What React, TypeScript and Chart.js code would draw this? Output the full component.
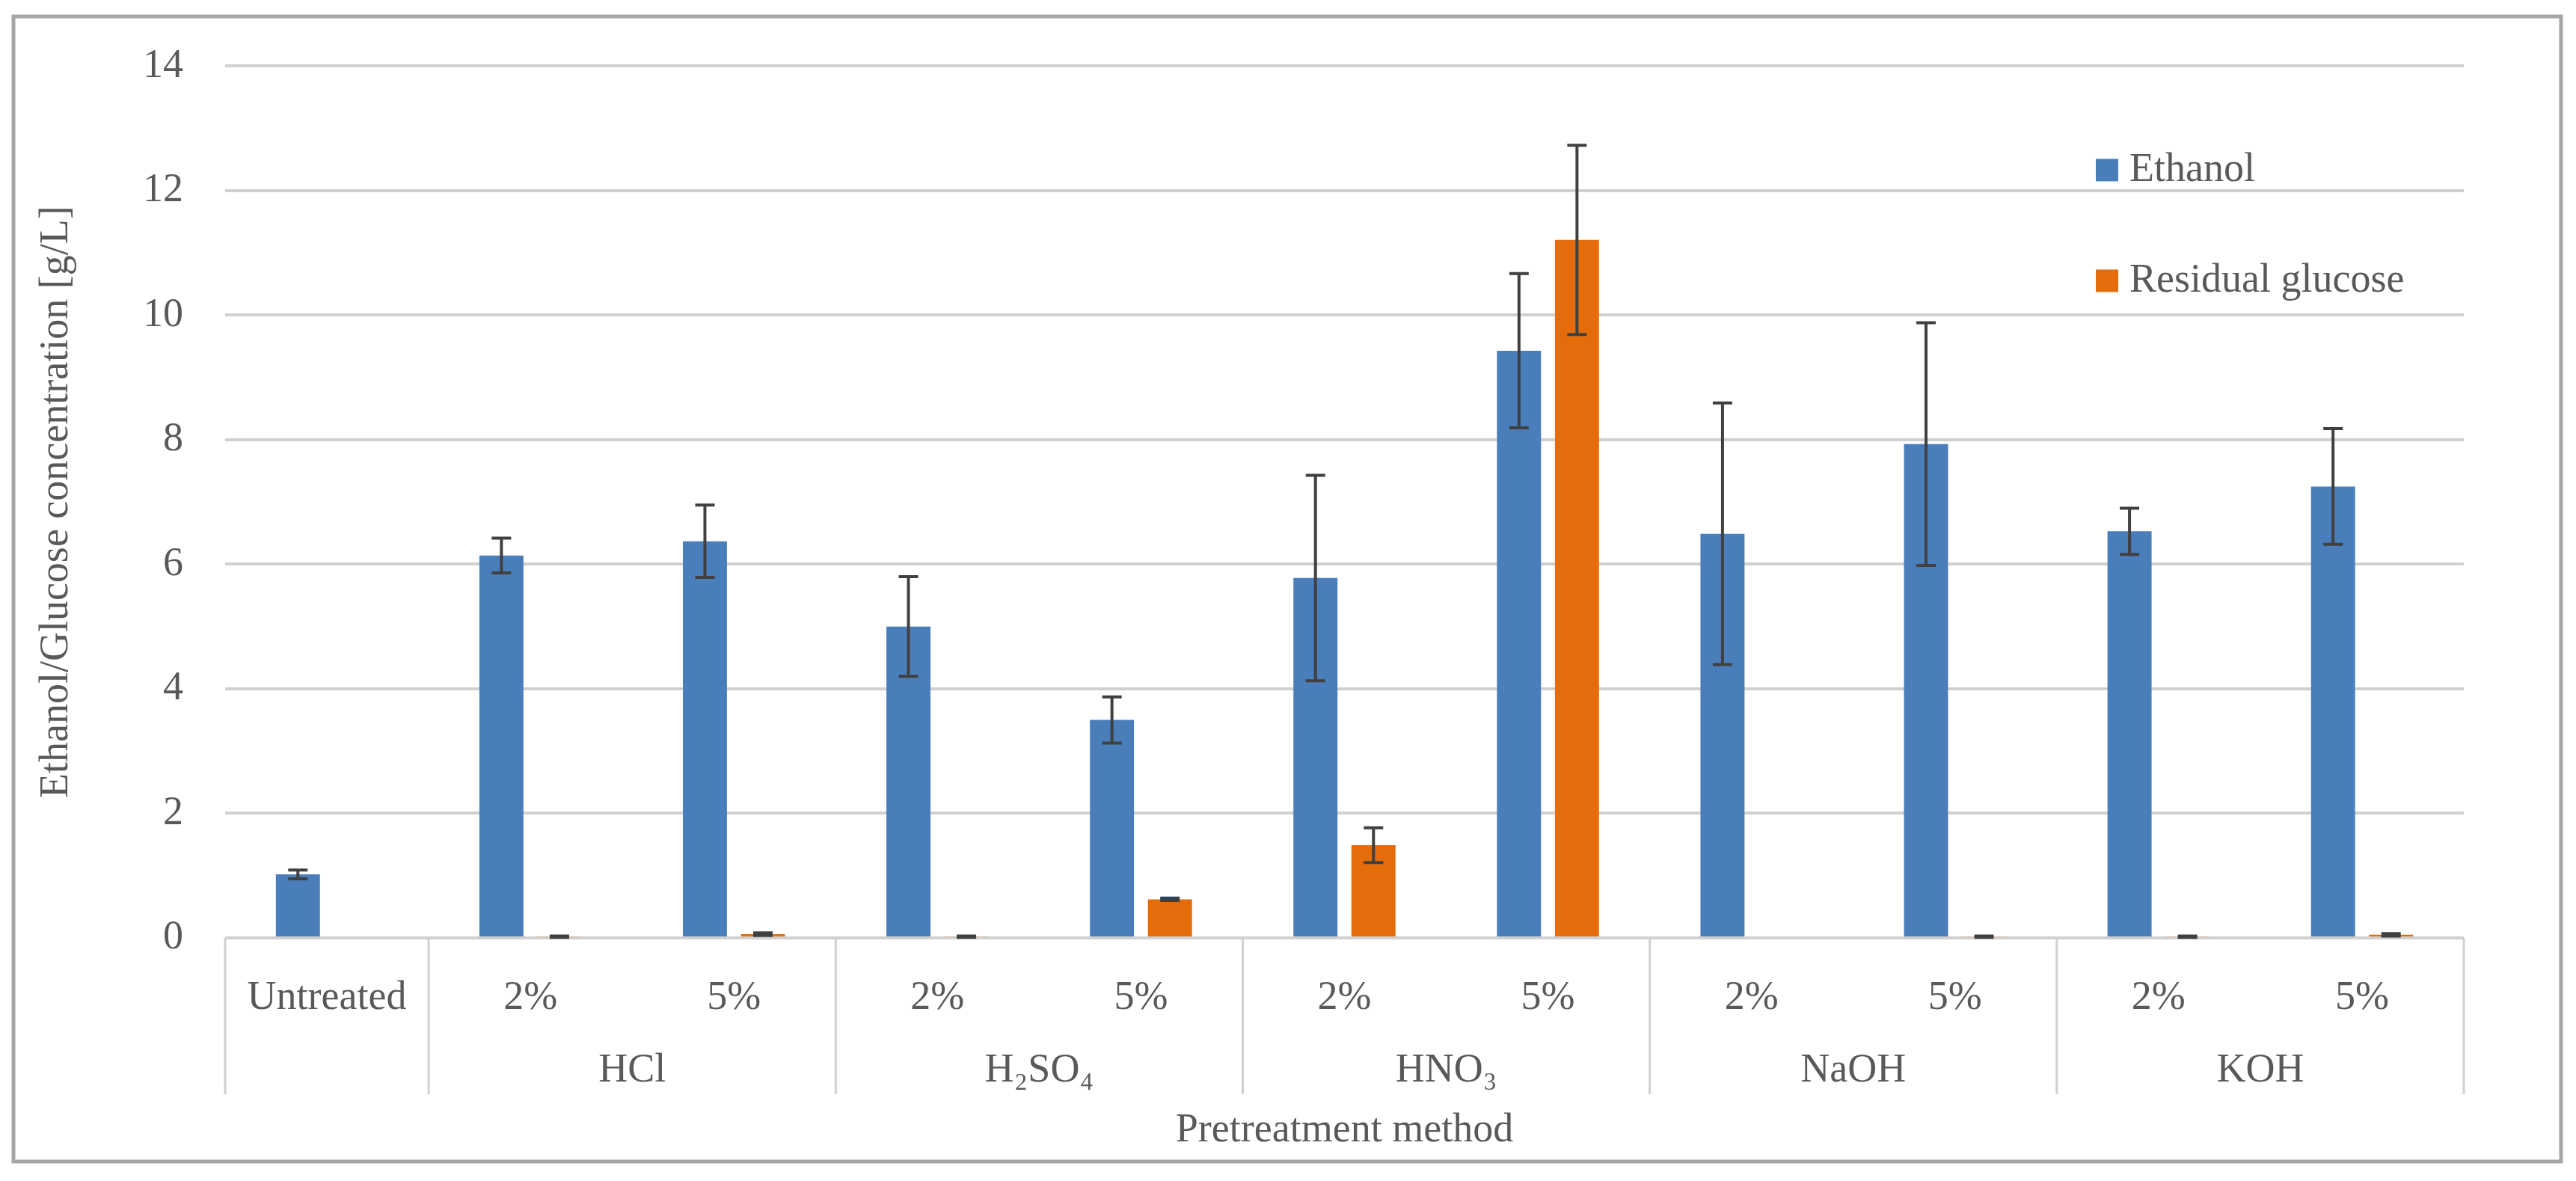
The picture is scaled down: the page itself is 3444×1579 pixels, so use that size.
import React, { useEffect, useRef } from 'react';
import { Chart, registerables } from 'chart.js';

Chart.register(...registerables);

// categories (bottom row) and groups (second row)
const categories = ['Untreated', '2%', '5%', '2%', '5%', '2%', '5%', '2%', '5%', '2%', '5%'];
const groupLabels = ['', 'HCl', 'H₂SO₄', 'HNO₃', 'NaOH', 'KOH'];
const groupStarts = [0, 1, 3, 5, 7, 9];
const groupEnds = [0, 2, 4, 6, 8, 10];

const ethanol = [1.02, 6.14, 6.37, 5.0, 3.5, 5.78, 9.43, 6.49, 7.93, 6.53, 7.25];
const ethanolErr = [0.07, 0.28, 0.58, 0.8, 0.37, 1.65, 1.24, 2.1, 1.95, 0.37, 0.93];
const glucose = [null, 0.02, 0.06, 0.02, 0.62, 1.49, 11.21, 0, 0.02, 0.02, 0.05];
const glucoseErr = [0, 0.01, 0.02, 0.01, 0.02, 0.28, 1.52, 0, 0.01, 0.01, 0.02];

const yTicks = [0, 2, 4, 6, 8, 10, 12, 14];

const FONT = '"Liberation Serif", "Times New Roman", serif';
const TEXT = '#595959';

const decor = {
    id: 'decor',
    beforeDraw(chart: any) {
        const ctx = chart.ctx;
        ctx.save();
        ctx.fillStyle = '#ffffff';
        ctx.fillRect(0, 0, chart.width, chart.height);
        ctx.strokeStyle = '#a6a6a6';
        ctx.lineWidth = 5;
        ctx.strokeRect(18, 22, 3406, 1531);
        ctx.restore();
    },
    afterDatasetsDraw(chart: any) {
        const ctx = chart.ctx;
        const y = chart.scales.y;
        const errs = [ethanolErr, glucoseErr];
        ctx.save();
        ctx.strokeStyle = '#404040';
        ctx.lineWidth = 4;
        chart.data.datasets.forEach((ds: any, i: number) => {
            const meta = chart.getDatasetMeta(i);
            meta.data.forEach((bar: any, j: number) => {
                const v = ds.data[j];
                const e = errs[i][j];
                if (v == null || !e) return;
                const top = y.getPixelForValue(v + e);
                const bot = y.getPixelForValue(Math.max(v - e, 0));
                ctx.beginPath();
                ctx.moveTo(bar.x, top);
                ctx.lineTo(bar.x, bot);
                ctx.moveTo(bar.x - 13, top);
                ctx.lineTo(bar.x + 13, top);
                ctx.moveTo(bar.x - 13, bot);
                ctx.lineTo(bar.x + 13, bot);
                ctx.stroke();
            });
        });
        ctx.restore();
    },
    afterDraw(chart: any) {
        const ctx = chart.ctx;
        const x = chart.scales.x;
        const area = chart.chartArea;
        const edge = (i: number) => {
            if (i <= 0) return area.left;
            if (i >= categories.length) return area.right;
            return (x.getPixelForValue(i - 1) + x.getPixelForValue(i)) / 2;
        };
        ctx.save();
        // group separators
        ctx.strokeStyle = '#d0d0d0';
        ctx.lineWidth = 3;
        const bounds = [0, ...groupEnds.map((e) => e + 1)];
        bounds.forEach((b) => {
            const px = edge(b);
            ctx.beginPath();
            ctx.moveTo(px, area.bottom);
            ctx.lineTo(px, area.bottom + 209);
            ctx.stroke();
        });
        // group labels
        ctx.fillStyle = TEXT;
        ctx.font = `54px ${FONT}`;
        ctx.textAlign = 'center';
        ctx.textBaseline = 'middle';
        groupLabels.forEach((g, i) => {
            if (!g) return;
            const cx = (edge(groupStarts[i]) + edge(groupEnds[i] + 1)) / 2;
            ctx.fillText(g, cx, area.bottom + 178);
        });
        // legend
        ctx.textAlign = 'left';
        chart.data.datasets.forEach((ds: any, i: number) => {
            const ly = area.top + 139 + i * 148;
            const lx = area.right - 492;
            ctx.fillStyle = ds.backgroundColor;
            ctx.fillRect(lx, ly - 15, 30, 30);
            ctx.fillStyle = TEXT;
            ctx.fillText(ds.label, lx + 45, ly);
        });
        ctx.restore();
    },
};

const BarChart = () => {
    const chartRef = useRef<HTMLCanvasElement | null>(null);

    useEffect(() => {
        let myChart: Chart | null = null;
        const canvas = chartRef.current;
        if (canvas) {
            const ctx = canvas.getContext('2d');
            if (ctx) {
                myChart = new Chart(ctx, {
                    type: 'bar',
                    data: {
                        labels: categories,
                        datasets: [
                            {
                                label: 'Ethanol',
                                data: ethanol,
                                backgroundColor: '#4a7ebb',
                                barPercentage: 0.76,
                                categoryPercentage: 0.57,
                            },
                            {
                                label: 'Residual glucose',
                                data: glucose,
                                backgroundColor: '#e46c0a',
                                barPercentage: 0.76,
                                categoryPercentage: 0.57,
                            },
                        ],
                    },
                    options: {
                        responsive: false,
                        devicePixelRatio: 1,
                        animation: false,
                        layout: { padding: { top: 78, right: 150, left: 0, bottom: 0 } },
                        plugins: {
                            legend: { display: false },
                            tooltip: { enabled: false },
                        },
                        scales: {
                            x: {
                                grid: { display: false },
                                border: { display: false },
                                ticks: {
                                    color: TEXT,
                                    font: { family: FONT, size: 54 },
                                    padding: 40,
                                    maxRotation: 0,
                                    autoSkip: false,
                                },
                                title: {
                                    display: true,
                                    text: 'Pretreatment method',
                                    color: TEXT,
                                    font: { family: FONT, size: 54 },
                                    padding: { top: 0, bottom: 35 },
                                },
                                afterFit: (scale: any) => {
                                    scale.height = 325;
                                },
                            },
                            y: {
                                min: 0,
                                max: 14,
                                afterBuildTicks: (scale: any) => {
                                    scale.ticks = yTicks.map((v) => ({ value: v }));
                                },
                                grid: { color: '#d0d0d0', lineWidth: 4, drawTicks: false },
                                border: { display: false },
                                ticks: {
                                    color: TEXT,
                                    font: { family: FONT, size: 54 },
                                    padding: 56,
                                },
                                title: {
                                    display: true,
                                    text: 'Ethanol/Glucose concentration [g/L]',
                                    color: TEXT,
                                    font: { family: FONT, size: 54 },
                                    padding: { top: 43, bottom: 0 },
                                },
                                afterFit: (scale: any) => {
                                    scale.width = 301;
                                },
                            },
                        },
                    },
                    plugins: [decor],
                });
            }
        }
        return () => {
            if (myChart) {
                myChart.destroy();
            }
        };
    }, []);

    return <canvas ref={chartRef} width={3444} height={1579}></canvas>;
};

export default function App() {
    return (
        <div style={{ position: 'fixed', left: 0, top: 0, width: 3444, height: 1579, background: '#fff' }}>
            <BarChart />
        </div>
    );
}
